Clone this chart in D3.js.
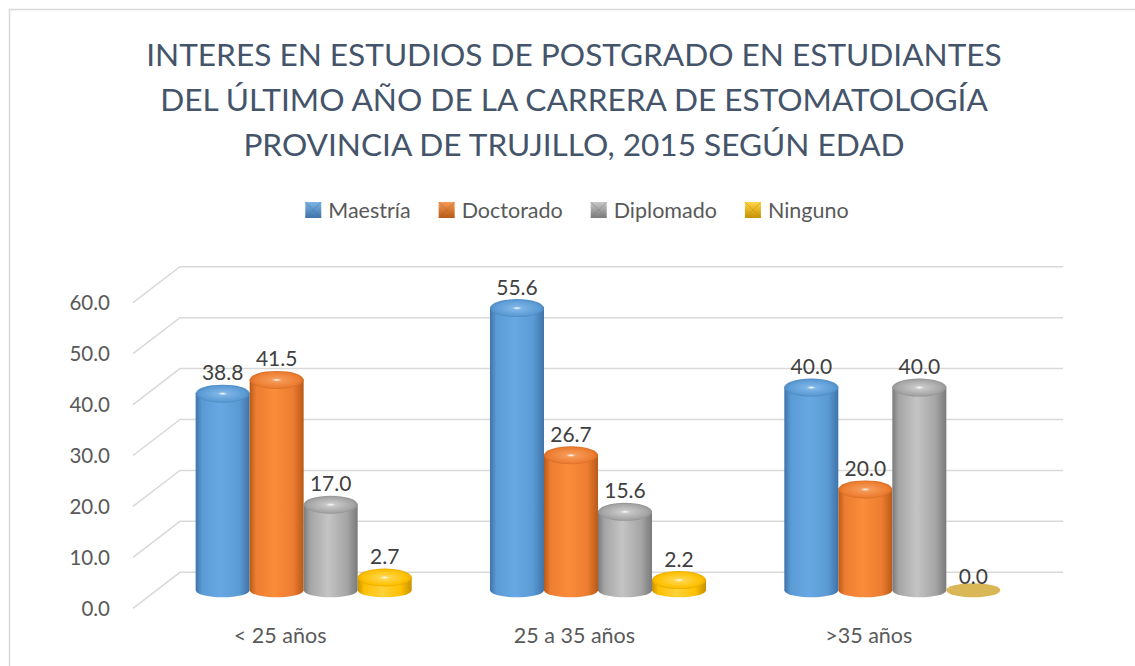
<!DOCTYPE html>
<meta charset="utf-8">
<head>
  <script src="https://cdn.jsdelivr.net/npm/d3@7"></script>
  <style>
    body { margin: 0; background: #fff; }
    svg { display: block; }
    text { font-family: Lato, "Open Sans", sans-serif; }
  </style>
</head>
<body>
<script type="text/javascript">

// datos del grafico
var categorias = ["< 25 años", "25 a 35 años", ">35 años"];
var series = ["Maestría", "Doctorado", "Diplomado", "Ninguno"];
var maestria  = [38.8, 55.6, 40.0];
var doctorado = [41.5, 26.7, 20.0];
var diplomado = [17.0, 15.6, 40.0];
var ninguno   = [2.7, 2.2, 0.0];
var ticks = [0, 10, 20, 30, 40, 50, 60];
var titulo = ["INTERES EN ESTUDIOS DE POSTGRADO EN ESTUDIANTES",
              "DEL ÚLTIMO AÑO DE LA CARRERA DE ESTOMATOLOGÍA",
              "PROVINCIA DE TRUJILLO, 2015 SEGÚN EDAD"];

var valores = [maestria, doctorado, diplomado, ninguno];

// colores: [oscuro, claro, base, tapa]
var colores = {
  "Maestría":  ["#3f73a8", "#67a8e4", "#5b9bd5", "#7db4e6"],
  "Doctorado": ["#b85a18", "#fa8c3a", "#ed7d31", "#f59a58"],
  "Diplomado": ["#7a7a7a", "#c4c4c4", "#a5a5a5", "#c8c8c8"],
  "Ninguno":   ["#c79200", "#ffd23a", "#ffc000", "#ffd54a"]
};

var W = 1135, H = 666;

// profundidad 3D
var dx = -47, dy = 36;

var svg = d3.select("body").append("svg")
  .attr("width", W).attr("height", H);

var defs = svg.append("defs");

// borde del area del grafico
svg.append("rect")
  .attr("x", 9.5).attr("y", 9.5)
  .attr("width", 1300).attr("height", 800)
  .attr("fill", "none").attr("stroke", "#d9d9d9").attr("stroke-width", 1.5);

// escalas (pared del fondo)
var y = d3.scaleLinear().domain([0, 60]).range([572.3, 266.7]);
var x0 = d3.scaleBand().domain(categorias).range([180, 1063])
  .paddingInner(0.266).paddingOuter(0.133);
var x1 = d3.scaleBand().domain(series).range([0, x0.bandwidth()]);

// gradientes
series.forEach(function(s, i) {
  var c = colores[s];
  var g = defs.append("linearGradient").attr("id", "lg" + i)
    .attr("x1", 0).attr("x2", 1).attr("y1", 0).attr("y2", 0);
  g.append("stop").attr("offset", 0).attr("stop-color", c[0]);
  g.append("stop").attr("offset", 0.12).attr("stop-color", c[2]);
  g.append("stop").attr("offset", 0.45).attr("stop-color", c[1]);
  g.append("stop").attr("offset", 0.8).attr("stop-color", c[2]);
  g.append("stop").attr("offset", 1).attr("stop-color", c[0]);

  var r = defs.append("radialGradient").attr("id", "rg" + i)
    .attr("cx", 0.5).attr("cy", 0.5).attr("r", 0.6);
  r.append("stop").attr("offset", 0).attr("stop-color", "#ffffff");
  r.append("stop").attr("offset", 0.15).attr("stop-color", c[3]);
  r.append("stop").attr("offset", 0.7).attr("stop-color", c[2]);
  r.append("stop").attr("offset", 1).attr("stop-color", c[0]);

  // icono de leyenda tipo piramide
  var p = defs.append("linearGradient").attr("id", "pg" + i)
    .attr("x1", 0).attr("x2", 0).attr("y1", 0).attr("y2", 1);
  p.append("stop").attr("offset", 0).attr("stop-color", c[3]);
  p.append("stop").attr("offset", 1).attr("stop-color", c[0]);
});

// lineas de division
var grid = svg.append("g");
ticks.forEach(function(t) {
  grid.append("path")
    .attr("d", "M" + (180 + dx) + "," + (y(t) + dy) + "L180," + y(t) + "L1063," + y(t))
    .attr("fill", "none").attr("stroke", "#d9d9d9").attr("stroke-width", 1.5);
});

// eje y
svg.append("g").selectAll("text")
  .data(ticks).enter().append("text")
  .attr("x", 110)
  .attr("y", function(d) { return y(d) + dy; })
  .attr("dy", "0.36em")
  .attr("text-anchor", "end")
  .attr("font-size", 20.5)
  .attr("fill", "#595959")
  .text(function(d) { return d.toFixed(1); });

// etiquetas de categorias
svg.append("g").selectAll("text")
  .data(categorias).enter().append("text")
  .attr("x", function(d) { return x0(d) + x0.bandwidth() / 2 + dx; })
  .attr("y", 643)
  .attr("text-anchor", "middle")
  .attr("font-size", 21.5)
  .attr("fill", "#595959")
  .text(function(d) { return d; });

// barras cilindricas
var rx = x1.bandwidth() / 2, ry = 7;
var barras = [];
series.forEach(function(s, i) {
  categorias.forEach(function(c, j) {
    barras.push({serie: s, si: i, cat: c, v: valores[i][j]});
  });
});

var gb = svg.append("g");
barras.forEach(function(b) {
  var cx = x0(b.cat) + x1(b.serie) + rx + dx / 2;
  var base = y(0) + dy / 2;
  var top = y(b.v) + dy / 2;
  var g = gb.append("g");
  if (b.v === 0) {
    g.append("ellipse").attr("cx", cx).attr("cy", base)
      .attr("rx", rx).attr("ry", ry).attr("fill", "#dab756");
  } else {
    g.append("path")
      .attr("d", "M" + (cx - rx) + "," + top + "L" + (cx - rx) + "," + base +
        "A" + rx + "," + ry + " 0 0 0 " + (cx + rx) + "," + base +
        "L" + (cx + rx) + "," + top + "Z")
      .attr("fill", "url(#lg" + b.si + ")");
    g.append("ellipse").attr("cx", cx).attr("cy", top + 1)
      .attr("rx", rx).attr("ry", ry + 2).attr("fill", "url(#rg" + b.si + ")");
  }
  // etiqueta de datos
  svg.append("text")
    .attr("x", cx)
    .attr("y", top - (b.v === 0 ? 14 : 20))
    .attr("dy", "0.36em")
    .attr("text-anchor", "middle")
    .attr("font-size", 21)
    .attr("fill", "#404040")
    .text(b.v.toFixed(1));
});

// titulo
svg.append("g").selectAll("text")
  .data(titulo).enter().append("text")
  .attr("x", 574)
  .attr("y", function(d, i) { return 55 + i * 45; })
  .attr("dy", "0.36em")
  .attr("text-anchor", "middle")
  .attr("font-size", 31.6)
  .attr("fill", "#44546a")
  .text(function(d) { return d; });

// leyenda
var ley = svg.append("g");
var xx = 0;
series.forEach(function(s, i) {
  var it = ley.append("g").attr("transform", "translate(" + xx + ",0)");
  it.append("rect").attr("x", 0).attr("y", -8).attr("width", 16).attr("height", 16)
    .attr("fill", "url(#pg" + i + ")");
  it.append("path").attr("d", "M0,-8L8,0L16,-8M0,8L8,0L16,8")
    .attr("fill", "none").attr("stroke", colores[s][0]).attr("stroke-width", 0.8)
    .attr("opacity", 0.6);
  var t = it.append("text").attr("x", 23).attr("dy", "0.36em")
    .attr("font-size", 21.5).attr("fill", "#595959").text(s);
  xx += 23 + t.node().getComputedTextLength() + 28;
});
xx -= 28;
ley.attr("transform", "translate(" + (577 - xx / 2) + ",210)");

</script>
</body>
